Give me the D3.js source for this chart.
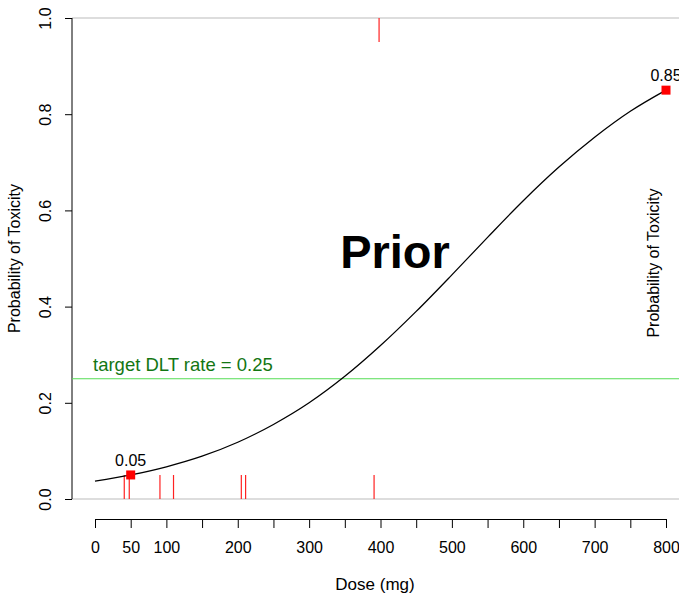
<!DOCTYPE html>
<html>
<head>
<meta charset="utf-8">
<script src="https://cdn.jsdelivr.net/npm/d3@7"></script>
<style>
  html, body { margin: 0; padding: 0; background: #fff; }
  svg { display: block; font-family: "Liberation Sans", Arial, sans-serif; }
</style>
</head>
<body>
<svg id="chart" width="679" height="596"></svg>
<script>
// Prior dose-toxicity curve (dose in mg, probability of toxicity)
const doses = [0, 50, 100, 150, 200, 250, 300, 350, 400, 450, 500, 550, 600, 650, 700, 750, 800];
const probs = [0.037, 0.050, 0.067, 0.089, 0.118, 0.155, 0.200, 0.255, 0.319, 0.390, 0.466, 0.544, 0.620, 0.690, 0.752, 0.806, 0.850];

// Prior anchor points
const anchorDoses = [50, 800];
const anchorProbs = [0.05, 0.85];

// Observed patients: doses without DLT (rug at 0) and with DLT (rug at 1)
const noToxDoses = [41, 48, 91, 110, 205, 211, 391];
const toxDoses = [398];

const targetRate = 0.25;
const xTicks = [0, 50, 100, 150, 200, 250, 300, 350, 400, 450, 500, 550, 600, 650, 700, 750, 800];
const xTickLabels = ["0", "50", "100", "", "200", "", "300", "", "400", "", "500", "", "600", "", "700", "", "800"];
const yTicks = [0, 0.2, 0.4, 0.6, 0.8, 1.0];

const svg = d3.select("#chart");
const W = 679;

const x = d3.scaleLinear().domain([0, 800]).range([95, 666]);
const y = d3.scaleLinear().domain([0, 1]).range([499, 18]);

// Light boundary lines at 0 and 1
svg.selectAll("line.bound").data([0, 1]).enter().append("line")
  .attr("class", "bound")
  .attr("x1", 72).attr("x2", W)
  .attr("y1", d => y(d)).attr("y2", d => y(d))
  .attr("stroke", "#bbbbbb").attr("stroke-width", 1);

// Y axis
const yAxis = d3.axisLeft(y).tickValues(yTicks).tickFormat(d3.format(".1f")).tickSize(7).tickPadding(0);
const gy = svg.append("g").attr("transform", "translate(72,0)").call(yAxis);
gy.select(".domain").attr("d", `M0,${y(0)}V${y(1)}`).attr("stroke", "#000");
gy.selectAll(".tick line").attr("stroke", "#000");
gy.selectAll(".tick text")
  .attr("font-size", 16)
  .attr("fill", "#000")
  .attr("transform", "rotate(-90)")
  .attr("x", 0).attr("y", -21)
  .attr("dy", null)
  .attr("text-anchor", "middle");

svg.append("text")
  .attr("transform", `translate(20,${(y(0) + y(1)) / 2}) rotate(-90)`)
  .attr("text-anchor", "middle")
  .attr("font-size", 16)
  .text("Probability of Toxicity");

// X axis
const xAxis = d3.axisBottom(x).tickValues(xTicks)
  .tickFormat((d, i) => xTickLabels[i]).tickSize(9).tickPadding(14).tickSizeOuter(0);
const gx = svg.append("g").attr("transform", "translate(0,519)").call(xAxis);
gx.select(".domain").attr("stroke", "#000");
gx.selectAll(".tick line").attr("stroke", "#000");
gx.selectAll(".tick text").attr("font-size", 16).attr("fill", "#000");

svg.append("text")
  .attr("x", 375).attr("y", 590)
  .attr("text-anchor", "middle")
  .attr("font-size", 17)
  .text("Dose (mg)");

// Target DLT rate
svg.append("line")
  .attr("x1", 72).attr("x2", W)
  .attr("y1", y(targetRate)).attr("y2", y(targetRate))
  .attr("stroke", "#55dd55").attr("stroke-width", 1);
svg.append("text")
  .attr("x", 93).attr("y", y(targetRate) - 8)
  .attr("font-size", 18.5)
  .attr("fill", "#137613")
  .text("target DLT rate = " + targetRate);

// Rug marks for observed patients
svg.selectAll("line.rug0").data(noToxDoses).enter().append("line")
  .attr("x1", d => x(d)).attr("x2", d => x(d))
  .attr("y1", y(0)).attr("y2", y(0) - 24)
  .attr("stroke", "#ff2222").attr("stroke-width", 1.2);
svg.selectAll("line.rug1").data(toxDoses).enter().append("line")
  .attr("x1", d => x(d)).attr("x2", d => x(d))
  .attr("y1", y(1)).attr("y2", y(1) + 24)
  .attr("stroke", "#ff2222").attr("stroke-width", 1.2);

// Prior curve
const line = d3.line()
  .x((d, i) => x(doses[i]))
  .y(d => y(d))
  .curve(d3.curveMonotoneX);
svg.append("path")
  .attr("d", line(probs))
  .attr("fill", "none")
  .attr("stroke", "#000")
  .attr("stroke-width", 1.3);

// Anchor points and their labels
const anchors = anchorDoses.map((d, i) => ({ dose: d, p: anchorProbs[i] }));
svg.selectAll("rect.anchor").data(anchors).enter().append("rect")
  .attr("x", d => x(d.dose) - 4.5).attr("y", d => y(d.p) - 4.5)
  .attr("width", 9).attr("height", 9)
  .attr("fill", "#ff0000");
svg.selectAll("text.anchor").data(anchors).enter().append("text")
  .attr("x", d => x(d.dose)).attr("y", d => y(d.p) - 9)
  .attr("text-anchor", "middle")
  .attr("font-size", 16)
  .text(d => d.p.toFixed(2));

// Title inside the panel
svg.append("text")
  .attr("x", 395).attr("y", 268)
  .attr("text-anchor", "middle")
  .attr("font-size", 47)
  .attr("font-weight", "bold")
  .text("Prior");

// Right-side label
svg.append("text")
  .attr("transform", `translate(659,263) rotate(-90)`)
  .attr("text-anchor", "middle")
  .attr("font-size", 16)
  .text("Probability of Toxicity");
</script>
</body>
</html>
